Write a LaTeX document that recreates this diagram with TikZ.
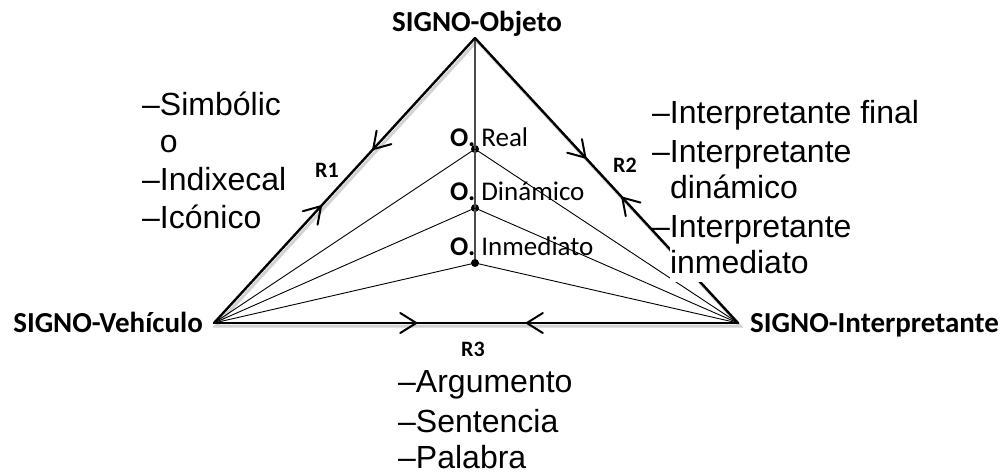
\documentclass[tikz,border=0pt]{standalone}
\usepackage{fontspec}
\setmainfont{Liberation Sans}
\newfontfamily\calfont{Carlito}
\usetikzlibrary{decorations.markings}
\begin{document}
\begin{tikzpicture}[x=1pt,y=-1pt,
  side/.style={line width=2.4pt, line cap=round, line join=round},
  shadowline/.style={line width=3pt, gray!35, line cap=round},
  thinline/.style={line width=0.9pt},
  vline/.style={line width=1.4pt, black!70},
  dot/.style={circle, fill=black, inner sep=0pt, minimum size=8pt},
  bigl/.style={font=\calfont\bfseries\fontsize{29}{34}\selectfont, inner sep=0pt},
  rlab/.style={font=\calfont\bfseries\fontsize{22}{26}\selectfont, inner sep=0pt},
  olab/.style={font=\calfont\fontsize{27}{32}\selectfont, inner sep=0pt, anchor=base west},
  lst/.style={font=\fontsize{32}{38}\selectfont, inner sep=0pt, anchor=base west},
  barbs/.style 2 args={postaction={decorate}, decoration={markings,
     mark=at position #1 with {\draw[line width=2pt, line cap=round, line join=miter] (-16pt,10pt) -- (0pt,0pt) -- (-16pt,-10pt);},
     mark=at position #2 with {\draw[line width=2pt, line cap=round, line join=miter] (16pt,10pt) -- (0pt,0pt) -- (16pt,-10pt);}}}
]
\useasboundingbox (0,0) rectangle (1007,474);
\fill[white] (0,0) rectangle (1007,474);

\coordinate (O) at (475,38);
\coordinate (V) at (214,323);
\coordinate (I) at (738,323);
\coordinate (Os) at (477,41);
\coordinate (Vs) at (216,326);
\coordinate (Is) at (740,326);

% shadow
\draw[shadowline] (Vs) -- (Os) -- (Is) -- cycle;

% dots
\node[dot] (d1) at (475,149) {};
\node[dot] (d2) at (475,208) {};
\node[dot] (d3) at (475,263) {};

% inner lines
\draw[vline] (O) -- (d3);
\foreach \d in {d1,d2,d3} {
  \draw[thinline] (V) -- (\d.center);
  \draw[thinline] (I) -- (\d.center);
}

% triangle sides with arrows
\draw[side, barbs={0.41}{0.61}] (V) -- (O);
\draw[side, barbs={0.42}{0.56}] (O) -- (I);
\draw[side, barbs={0.386}{0.597}] (V) -- (I);

% white text box of the right list covering the side
\fill[white] (670,208) rectangle (870,282);

% vertex labels
\node[bigl, anchor=base] (tO) at (477,31) {SIGNO-Objeto};
\node[bigl, anchor=base east] (tV) at (203,332) {SIGNO-Vehículo};
\node[bigl, anchor=base west] (tI) at (750,332) {SIGNO-Interpretante};

% relation labels
\node[rlab] (r1) at (327,170) {R1};
\node[rlab] (r2) at (625,165) {R2};
\node[rlab] (r3) at (473,349) {R3};

% object labels
\node[olab] (o1) at (450,146) {\textbf{O.} Real};
\node[olab] (o2) at (450,200) {\textbf{O.} Dinámico};
\node[olab] (o3) at (450,255) {\textbf{O.} Inmediato};

% left list
\node[lst] (l1) at (142,115) {–Simbólic};
\node[lst] (l2) at (142,152) {\phantom{–}o};
\node[lst] (l3) at (142,190) {–Indixecal};
\node[lst] (l4) at (142,228) {–Icónico};

% right list
\node[lst] (p1) at (652,123) {–Interpretante final};
\node[lst] (p2) at (652,162) {–Interpretante};
\node[lst] (p3) at (652,198) {\phantom{–}dinámico};
\node[lst] (p4) at (652,237) {–Interpretante};
\node[lst] (p5) at (652,273) {\phantom{–}inmediato};

% bottom list
\node[lst] (b1) at (398,392) {–Argumento};
\node[lst] (b2) at (398,432) {–Sentencia};
\node[lst] (b3) at (398,468) {–Palabra};
\end{tikzpicture}
\end{document}
